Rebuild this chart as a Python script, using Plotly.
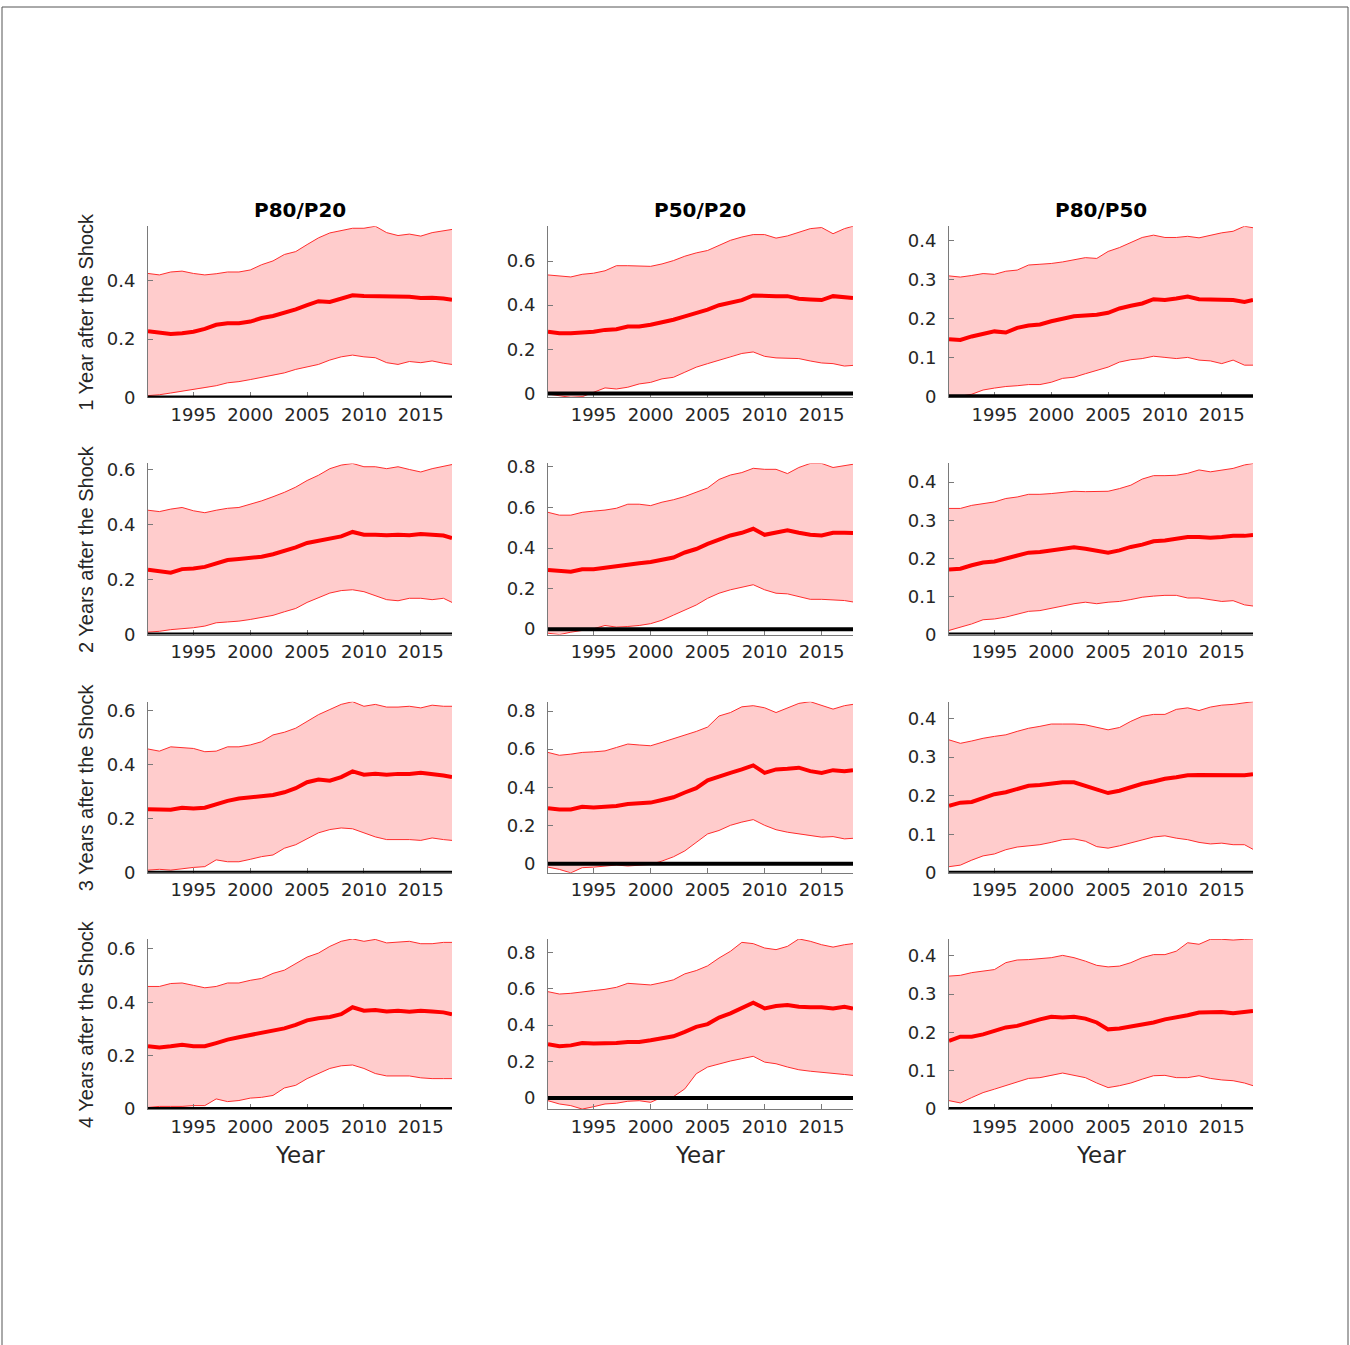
import plotly.graph_objects as go

# ---------------------------------------------------------------------------
# Data: estimated ratio sensitivity with confidence band, by horizon
# ---------------------------------------------------------------------------
YEARS = [1991, 1992, 1993, 1994, 1995, 1996, 1997, 1998, 1999, 2000,
         2001, 2002, 2003, 2004, 2005, 2006, 2007, 2008, 2009, 2010,
         2011, 2012, 2013, 2014, 2015, 2016, 2017, 2017.75]
YEAR_TICKS = [1995, 2000, 2005, 2010, 2015]
RATIOS = ["P80/P20", "P50/P20", "P80/P50"]
HORIZONS = ["1 Year after the Shock", "2 Years after the Shock",
            "3 Years after the Shock", "4 Years after the Shock"]
Y_TICK_STEP = [0.2, 0.2, 0.1]

# P80/P20
p8020_h1_hi = [0.425, 0.42, 0.43, 0.433, 0.425, 0.42, 0.424, 0.43, 0.43, 0.437, 0.455, 0.468, 0.49, 0.50,
               0.524, 0.547, 0.564, 0.572, 0.58, 0.58, 0.587, 0.565, 0.555, 0.56, 0.553, 0.565, 0.572, 0.576]
p8020_h1_mid = [0.227, 0.223, 0.217, 0.22, 0.225, 0.235, 0.249, 0.254, 0.254, 0.26, 0.272, 0.279, 0.29, 0.302,
                0.316, 0.33, 0.327, 0.339, 0.35, 0.348, 0.348, 0.345, 0.345, 0.345, 0.341, 0.342, 0.339, 0.335]
p8020_h1_lo = [0.006, 0.009, 0.015, 0.021, 0.027, 0.032, 0.04, 0.05, 0.054, 0.061, 0.069, 0.075, 0.084, 0.096,
               0.104, 0.113, 0.128, 0.139, 0.145, 0.139, 0.136, 0.119, 0.113, 0.123, 0.119, 0.125, 0.117, 0.113]

p8020_h2_hi = [0.452, 0.447, 0.456, 0.462, 0.45, 0.443, 0.452, 0.459, 0.462, 0.474, 0.486, 0.501, 0.517, 0.536,
               0.56, 0.579, 0.603, 0.616, 0.622, 0.61, 0.61, 0.603, 0.61, 0.6, 0.591, 0.603, 0.612, 0.618]
p8020_h2_mid = [0.236, 0.23, 0.225, 0.238, 0.24, 0.246, 0.259, 0.271, 0.275, 0.28, 0.283, 0.292, 0.304, 0.317,
                0.333, 0.341, 0.349, 0.357, 0.373, 0.363, 0.363, 0.361, 0.363, 0.361, 0.366, 0.363, 0.36, 0.351]
p8020_h2_lo = [0.009, 0.012, 0.018, 0.021, 0.025, 0.031, 0.043, 0.046, 0.049, 0.055, 0.062, 0.07, 0.083, 0.095,
               0.117, 0.135, 0.151, 0.16, 0.163, 0.156, 0.142, 0.127, 0.123, 0.132, 0.132, 0.127, 0.132, 0.117]

p8020_h3_hi = [0.458, 0.45, 0.466, 0.463, 0.46, 0.448, 0.45, 0.466, 0.466, 0.473, 0.485, 0.51, 0.52, 0.535,
               0.56, 0.585, 0.604, 0.623, 0.633, 0.616, 0.623, 0.613, 0.613, 0.616, 0.61, 0.62, 0.616, 0.616]
p8020_h3_mid = [0.235, 0.233, 0.233, 0.241, 0.238, 0.241, 0.254, 0.266, 0.275, 0.279, 0.285, 0.288, 0.298, 0.313,
                0.335, 0.345, 0.341, 0.354, 0.375, 0.363, 0.366, 0.363, 0.366, 0.366, 0.37, 0.366, 0.36, 0.354]
p8020_h3_lo = [0.01, 0.013, 0.01, 0.016, 0.02, 0.023, 0.048, 0.041, 0.041, 0.05, 0.06, 0.066, 0.091, 0.104,
               0.125, 0.148, 0.16, 0.166, 0.163, 0.148, 0.133, 0.123, 0.123, 0.123, 0.12, 0.129, 0.123, 0.12]

p8020_h4_hi = [0.459, 0.459, 0.47, 0.472, 0.463, 0.454, 0.459, 0.472, 0.472, 0.482, 0.489, 0.508, 0.52, 0.546,
               0.569, 0.584, 0.609, 0.628, 0.637, 0.628, 0.635, 0.622, 0.624, 0.628, 0.619, 0.619, 0.624, 0.624]
p8020_h4_mid = [0.235, 0.231, 0.235, 0.241, 0.235, 0.235, 0.247, 0.26, 0.269, 0.277, 0.286, 0.292, 0.302, 0.315,
                0.332, 0.34, 0.345, 0.355, 0.381, 0.368, 0.371, 0.365, 0.368, 0.364, 0.368, 0.365, 0.362, 0.355]
p8020_h4_lo = [0.006, 0.01, 0.01, 0.01, 0.013, 0.013, 0.038, 0.028, 0.032, 0.041, 0.044, 0.051, 0.079, 0.089,
               0.114, 0.133, 0.152, 0.162, 0.165, 0.152, 0.133, 0.124, 0.124, 0.124, 0.117, 0.114, 0.114, 0.114]

# P50/P20
p5020_h1_hi = [0.537, 0.533, 0.528, 0.54, 0.545, 0.556, 0.579, 0.579, 0.579, 0.576, 0.587, 0.602, 0.622, 0.637,
               0.648, 0.671, 0.694, 0.709, 0.72, 0.72, 0.704, 0.714, 0.729, 0.747, 0.752, 0.724, 0.747, 0.758]
p5020_h1_mid = [0.28, 0.273, 0.273, 0.276, 0.28, 0.288, 0.291, 0.303, 0.303, 0.311, 0.322, 0.334, 0.349, 0.364,
                0.38, 0.4, 0.41, 0.423, 0.444, 0.441, 0.441, 0.441, 0.429, 0.426, 0.423, 0.441, 0.436, 0.433]
p5020_h1_lo = [-0.003, -0.011, -0.018, -0.015, 0.005, 0.025, 0.02, 0.028, 0.043, 0.05, 0.066, 0.073, 0.096, 0.119,
               0.135, 0.15, 0.168, 0.181, 0.188, 0.168, 0.161, 0.158, 0.158, 0.147, 0.138, 0.135, 0.124, 0.127]

p5020_h2_hi = [0.576, 0.562, 0.562, 0.576, 0.582, 0.587, 0.596, 0.616, 0.616, 0.609, 0.626, 0.638, 0.654, 0.676,
               0.696, 0.738, 0.76, 0.772, 0.793, 0.788, 0.788, 0.767, 0.797, 0.817, 0.817, 0.797, 0.805, 0.813]
p5020_h2_mid = [0.291, 0.286, 0.283, 0.295, 0.295, 0.303, 0.311, 0.32, 0.325, 0.331, 0.341, 0.353, 0.378, 0.395,
                0.42, 0.442, 0.462, 0.475, 0.495, 0.465, 0.475, 0.487, 0.475, 0.465, 0.462, 0.475, 0.475, 0.474]
p5020_h2_lo = [-0.02, -0.027, -0.015, -0.007, 0.002, 0.018, 0.01, 0.013, 0.018, 0.027, 0.044, 0.069, 0.094, 0.119,
               0.152, 0.177, 0.194, 0.206, 0.219, 0.194, 0.177, 0.174, 0.161, 0.147, 0.147, 0.144, 0.141, 0.134]

p5020_h3_hi = [0.583, 0.568, 0.574, 0.583, 0.586, 0.591, 0.609, 0.627, 0.622, 0.618, 0.636, 0.654, 0.671, 0.693,
               0.716, 0.774, 0.792, 0.822, 0.828, 0.817, 0.792, 0.814, 0.84, 0.849, 0.831, 0.81, 0.828, 0.835]
p5020_h3_mid = [0.29, 0.284, 0.284, 0.298, 0.295, 0.298, 0.302, 0.313, 0.316, 0.32, 0.334, 0.348, 0.373, 0.396,
                0.437, 0.458, 0.476, 0.494, 0.515, 0.476, 0.494, 0.497, 0.503, 0.485, 0.476, 0.49, 0.485, 0.49]
p5020_h3_lo = [-0.018, -0.03, -0.048, -0.021, -0.018, -0.012, -0.007, -0.012, -0.007, -0.004, 0.014, 0.036, 0.067,
               0.112, 0.156, 0.174, 0.201, 0.218, 0.231, 0.201, 0.178, 0.165, 0.156, 0.147, 0.139, 0.142, 0.13, 0.133]

p5020_h4_hi = [0.584, 0.571, 0.575, 0.584, 0.59, 0.597, 0.608, 0.63, 0.627, 0.621, 0.634, 0.649, 0.682, 0.7,
               0.726, 0.769, 0.806, 0.855, 0.848, 0.824, 0.815, 0.833, 0.874, 0.861, 0.842, 0.829, 0.842, 0.848]
p5020_h4_mid = [0.295, 0.284, 0.289, 0.302, 0.299, 0.299, 0.302, 0.308, 0.308, 0.317, 0.326, 0.339, 0.363, 0.391,
                0.406, 0.442, 0.465, 0.492, 0.524, 0.492, 0.505, 0.511, 0.501, 0.498, 0.498, 0.492, 0.501, 0.492]
p5020_h4_lo = [-0.015, -0.033, -0.042, -0.061, -0.048, -0.033, -0.029, -0.018, -0.015, -0.024, 0.004, 0.007, 0.05,
               0.133, 0.17, 0.188, 0.203, 0.216, 0.229, 0.197, 0.188, 0.17, 0.155, 0.147, 0.142, 0.136, 0.129, 0.124]

# P80/P50
p8050_h1_hi = [0.31, 0.307, 0.311, 0.316, 0.314, 0.322, 0.325, 0.338, 0.34, 0.342, 0.346, 0.351, 0.357, 0.355,
               0.373, 0.383, 0.395, 0.409, 0.415, 0.409, 0.409, 0.412, 0.408, 0.415, 0.421, 0.425, 0.438, 0.434]
p8050_h1_mid = [0.147, 0.145, 0.154, 0.161, 0.167, 0.164, 0.176, 0.182, 0.185, 0.193, 0.2, 0.206, 0.208, 0.21,
                0.215, 0.226, 0.233, 0.239, 0.25, 0.248, 0.252, 0.257, 0.25, 0.25, 0.25, 0.248, 0.243, 0.248]
p8050_h1_lo = [-0.003, 0.0, 0.005, 0.016, 0.021, 0.025, 0.027, 0.03, 0.03, 0.036, 0.046, 0.049, 0.058, 0.066,
               0.075, 0.088, 0.094, 0.097, 0.103, 0.1, 0.097, 0.1, 0.093, 0.091, 0.084, 0.093, 0.08, 0.08]

p8050_h2_hi = [0.331, 0.331, 0.339, 0.344, 0.348, 0.357, 0.361, 0.368, 0.368, 0.37, 0.373, 0.376, 0.375, 0.375,
               0.376, 0.383, 0.392, 0.408, 0.417, 0.417, 0.418, 0.423, 0.432, 0.427, 0.432, 0.436, 0.445, 0.449]
p8050_h2_mid = [0.171, 0.173, 0.182, 0.189, 0.192, 0.199, 0.208, 0.215, 0.217, 0.221, 0.225, 0.229, 0.225, 0.221,
                0.215, 0.221, 0.23, 0.236, 0.245, 0.247, 0.252, 0.256, 0.256, 0.254, 0.256, 0.259, 0.259, 0.261]
p8050_h2_lo = [0.011, 0.019, 0.028, 0.039, 0.041, 0.046, 0.054, 0.061, 0.063, 0.069, 0.076, 0.081, 0.085, 0.081,
               0.085, 0.087, 0.092, 0.098, 0.101, 0.103, 0.103, 0.096, 0.096, 0.092, 0.087, 0.089, 0.078, 0.075]

p8050_h3_hi = [0.345, 0.336, 0.342, 0.349, 0.354, 0.358, 0.367, 0.375, 0.38, 0.386, 0.386, 0.386, 0.384, 0.377,
               0.371, 0.377, 0.393, 0.406, 0.411, 0.411, 0.424, 0.428, 0.421, 0.43, 0.435, 0.437, 0.441, 0.444]
p8050_h3_mid = [0.174, 0.182, 0.184, 0.193, 0.204, 0.209, 0.218, 0.226, 0.228, 0.231, 0.235, 0.235, 0.226, 0.218,
                0.207, 0.213, 0.222, 0.231, 0.237, 0.244, 0.248, 0.253, 0.254, 0.254, 0.253, 0.254, 0.253, 0.256]
p8050_h3_lo = [0.016, 0.02, 0.033, 0.044, 0.049, 0.06, 0.067, 0.07, 0.073, 0.079, 0.086, 0.088, 0.082, 0.068,
               0.064, 0.07, 0.077, 0.086, 0.093, 0.096, 0.09, 0.086, 0.079, 0.075, 0.077, 0.073, 0.073, 0.061]

p8050_h4_hi = [0.347, 0.349, 0.356, 0.36, 0.364, 0.382, 0.389, 0.39, 0.392, 0.395, 0.401, 0.395, 0.386, 0.375,
               0.371, 0.373, 0.382, 0.395, 0.403, 0.403, 0.412, 0.434, 0.43, 0.443, 0.443, 0.441, 0.443, 0.444]
p8050_h4_mid = [0.178, 0.189, 0.189, 0.195, 0.204, 0.213, 0.217, 0.226, 0.234, 0.241, 0.239, 0.241, 0.236, 0.226,
                0.208, 0.21, 0.215, 0.221, 0.226, 0.234, 0.239, 0.245, 0.252, 0.253, 0.253, 0.25, 0.253, 0.256]
p8050_h4_lo = [0.022, 0.016, 0.03, 0.043, 0.052, 0.061, 0.071, 0.08, 0.082, 0.087, 0.094, 0.088, 0.082, 0.068,
               0.056, 0.061, 0.068, 0.078, 0.087, 0.088, 0.082, 0.082, 0.087, 0.08, 0.076, 0.074, 0.068, 0.061]

# Grid of (lower, estimate, upper) per horizon row and ratio column
PANELS = [
    [(p8020_h1_lo, p8020_h1_mid, p8020_h1_hi), (p5020_h1_lo, p5020_h1_mid, p5020_h1_hi),
     (p8050_h1_lo, p8050_h1_mid, p8050_h1_hi)],
    [(p8020_h2_lo, p8020_h2_mid, p8020_h2_hi), (p5020_h2_lo, p5020_h2_mid, p5020_h2_hi),
     (p8050_h2_lo, p8050_h2_mid, p8050_h2_hi)],
    [(p8020_h3_lo, p8020_h3_mid, p8020_h3_hi), (p5020_h3_lo, p5020_h3_mid, p5020_h3_hi),
     (p8050_h3_lo, p8050_h3_mid, p8050_h3_hi)],
    [(p8020_h4_lo, p8020_h4_mid, p8020_h4_hi), (p5020_h4_lo, p5020_h4_mid, p5020_h4_hi),
     (p8050_h4_lo, p8050_h4_mid, p8050_h4_hi)],
]

# ---------------------------------------------------------------------------
# Styling / layout
# ---------------------------------------------------------------------------
W, H = 1350, 1345
COL_PX = [(148, 452), (548, 853), (949, 1253)]
ROW_PX = [(226, 397), (463, 634), (701, 872), (938, 1108)]
TITLE_PX = 210
XLABEL_PX = 1154
ROWLABEL_X_PX = 86

# page rows are laid out slightly inset from the top edge
TOP_INSET, V_SCALE = 7.0, 0.9864


def px_x(x):
    return x / W


def px_y(y):
    return 1 - (y - TOP_INSET) / V_SCALE / H


BAND_FILL = "rgb(255,204,204)"
BAND_EDGE = "rgb(255,45,45)"
EST_LINE = "rgb(255,0,0)"
AXIS_COL = "#7a7a7a"
TEXT_COL = "#262626"
TICK_FONT = dict(family="DejaVu Sans", size=18, color=TEXT_COL)
LABEL_FONT = dict(family="Liberation Sans, Arial, sans-serif", size=20, color=TEXT_COL)

fig = go.Figure()
layout_axes = {}
shapes = []
annotations = []

for r, row in enumerate(PANELS):
    for c, (lo, mid, hi) in enumerate(row):
        k = r * 3 + c + 1
        xa = "x" if k == 1 else f"x{k}"
        ya = "y" if k == 1 else f"y{k}"

        # confidence band
        fig.add_trace(go.Scatter(
            x=YEARS + YEARS[::-1], y=hi + lo[::-1], xaxis=xa, yaxis=ya,
            mode="lines", fill="toself", fillcolor=BAND_FILL,
            line=dict(width=0), hoverinfo="skip", showlegend=False))
        for bound in (hi, lo):
            fig.add_trace(go.Scatter(
                x=YEARS, y=bound, xaxis=xa, yaxis=ya, mode="lines",
                line=dict(color=BAND_EDGE, width=1), showlegend=False))
        # point estimate
        fig.add_trace(go.Scatter(
            x=YEARS, y=mid, xaxis=xa, yaxis=ya, mode="lines",
            line=dict(color=EST_LINE, width=4), showlegend=False))

        x0, x1 = COL_PX[c]
        yt, yb = ROW_PX[r]
        ymin = min(0.0, min(lo))
        ymax = max(hi)

        layout_axes["xaxis" if k == 1 else f"xaxis{k}"] = dict(
            domain=[px_x(x0), px_x(x1)], anchor=ya, range=[YEARS[0], YEARS[-1]],
            tickvals=YEAR_TICKS, ticks="inside", ticklen=5, tickcolor=AXIS_COL,
            showline=True, linecolor=AXIS_COL, linewidth=1,
            showgrid=False, zeroline=False, tickfont=TICK_FONT,
            ticklabelstandoff=1)
        layout_axes["yaxis" if k == 1 else f"yaxis{k}"] = dict(
            domain=[px_y(yb), px_y(yt)], anchor=xa, range=[ymin, ymax],
            tick0=0, dtick=Y_TICK_STEP[c], ticks="inside", ticklen=5,
            tickcolor=AXIS_COL, showline=True, linecolor=AXIS_COL, linewidth=1,
            showgrid=False, zeroline=False, tickfont=TICK_FONT,
            ticklabelstandoff=8)

        # zero reference line
        shapes.append(dict(
            type="line", xref=f"{xa} domain", yref=ya, x0=0, x1=1, y0=0, y1=0,
            line=dict(color="black", width=4), layer="above"))

# column titles and x-axis titles
for c, name in enumerate(RATIOS):
    x0, x1 = COL_PX[c]
    annotations.append(dict(
        text=f"<b>{name}</b>", xref="paper", yref="paper",
        x=px_x((x0 + x1) / 2), y=px_y(TITLE_PX), showarrow=False,
        font=dict(family="DejaVu Sans", size=20, color="black"),
        xanchor="center", yanchor="middle"))
    annotations.append(dict(
        text="Year", xref="paper", yref="paper",
        x=px_x((x0 + x1) / 2), y=px_y(XLABEL_PX), showarrow=False,
        font=dict(family="DejaVu Sans", size=23, color=TEXT_COL),
        xanchor="center", yanchor="middle"))

# row labels
for r, name in enumerate(HORIZONS):
    yt, yb = ROW_PX[r]
    annotations.append(dict(
        text=name, xref="paper", yref="paper",
        x=px_x(ROWLABEL_X_PX), y=px_y((yt + yb) / 2), textangle=-90, showarrow=False,
        font=LABEL_FONT, xanchor="center", yanchor="middle"))

# thin frame around the page
shapes.append(dict(type="rect", xref="paper", yref="paper",
                   x0=px_x(2), x1=px_x(1348), y0=-0.05, y1=1,
                   line=dict(color="#555555", width=1), fillcolor="rgba(0,0,0,0)"))

fig.update_layout(
    width=W, height=H, margin=dict(l=0, r=0, t=0, b=0),
    paper_bgcolor="white", plot_bgcolor="white",
    showlegend=False, shapes=shapes, annotations=annotations,
    **layout_axes)

fig.write_html(
    "out.html",
    post_script="document.body.style.margin='0';document.body.style.padding='0';")
